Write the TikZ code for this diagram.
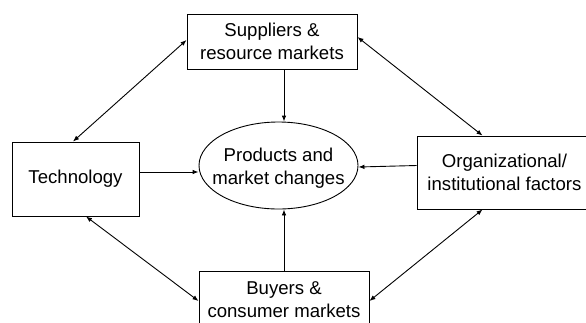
\documentclass[tikz,border=0pt]{standalone}
\usepackage{fontspec}
\setmainfont{Liberation Sans}
\usetikzlibrary{arrows.meta,shapes.geometric}
\begin{document}
\begin{tikzpicture}[x=1pt,y=-1pt,
  every node/.style={font=\fontsize{18.6}{22.5}\selectfont, align=center, inner sep=0pt},
  box/.style={draw, line width=0.9pt, rectangle},
  oval/.style={draw, line width=0.9pt, ellipse},
  link/.style={line width=0.9pt, {Latex[length=6pt,width=4.6pt]}-{Latex[length=6pt,width=4.6pt]}},
  feed/.style={line width=0.9pt, -{Latex[length=6pt,width=4.6pt]}}]
\useasboundingbox (0,0) rectangle (586,322);
% central ellipse
\node[oval, minimum width=159pt, minimum height=87pt] (prod) at (278.5,165.5) {};
\node at (278.5,168) {Products and\\market changes};
% surrounding boxes
\node[box, minimum width=170pt, minimum height=55pt] (sup) at (272,41.5) {Suppliers \&\\resource markets};
\node[box, minimum width=127pt, minimum height=74pt] (tech) at (75.5,179) {Technology};
\node[box, minimum width=175pt, minimum height=73pt] (org) at (504.5,172.5) {Organizational/\\institutional factors};
\node[box, minimum width=170pt, minimum height=57pt] (buy) at (284,299.5) {Buyers \&\\consumer markets};
% influences on products and markets
\draw[feed] (sup.south -| buy) -- (prod.north -| buy);
\draw[feed] (buy.north) -- (prod.south -| buy);
\coordinate (t1) at ([yshift=7pt]tech.east);
\draw[feed] (t1) -- (t1 -| prod.west);
\draw[feed] (prod.east -| org.west) -- ([yshift=-1.5pt]prod.east);
% mutual relations between the outer factors
\draw[link] ([xshift=-2.5pt]tech.north) -- ([yshift=1.5pt]sup.west);
\draw[link] ([yshift=4.5pt]sup.east) -- ([xshift=66pt]org.north west);
\draw[link] ([xshift=10.5pt]tech.south) -- ([yshift=-1.5pt]buy.west);
\draw[link] ([xshift=66pt]org.south west) -- ([yshift=-1.5pt]buy.east);
\end{tikzpicture}
\end{document}
